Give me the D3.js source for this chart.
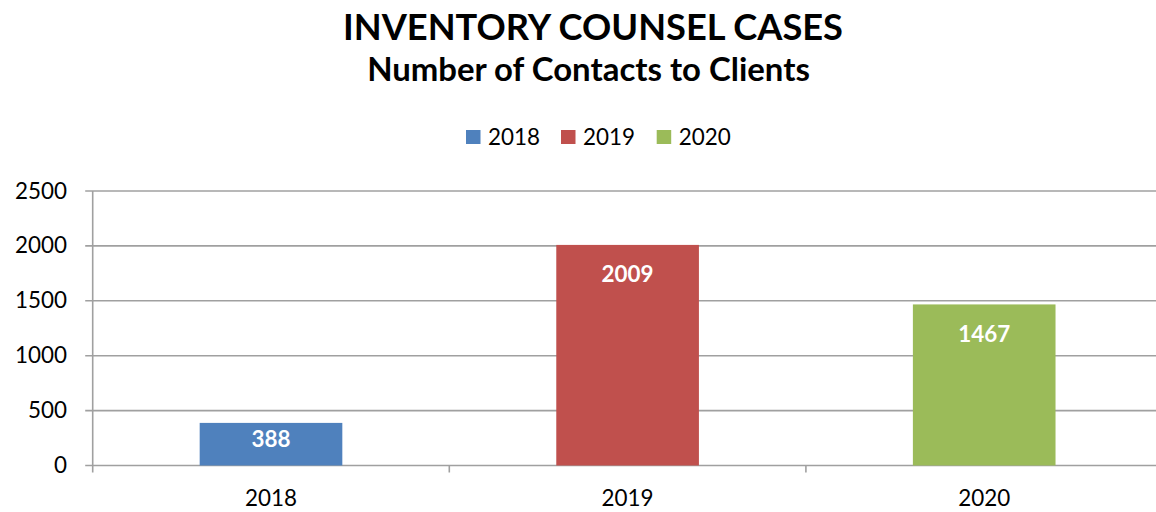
<!DOCTYPE html>
<html><head><meta charset="utf-8">
<script src="https://cdn.jsdelivr.net/npm/d3@7"></script>
<style>html,body{margin:0;padding:0;background:#fff;overflow:hidden}svg{display:block}</style>
</head><body><svg id="c" width="1156" height="512"></svg>
<script>
const categories = ["2018","2019","2020"];
const values = [388, 2009, 1467];
const colors = ["#4F81BD","#C0504D","#9BBB59"];
const yTicks = [0,500,1000,1500,2000,2500];
const titleText = "INVENTORY COUNSEL CASES";
const subtitleText = "Number of Contacts to Clients";

const FONT = "Lato, 'Open Sans', sans-serif";
const svg = d3.select("#c");
const plotLeft = 92.7, plotRight = 1162.5, plotTop = 191, plotBottom = 465.5;

const x = d3.scaleBand().domain(categories).range([plotLeft, plotRight]).paddingInner(0.6).paddingOuter(0.3);
const y = d3.scaleLinear().domain([0, 2500]).range([plotBottom, plotTop]);

function fit(sel, target){
  const node = sel.node();
  const fs = parseFloat(sel.attr("font-size"));
  const w = node.getComputedTextLength();
  sel.attr("font-size", fs * target / w);
  return fs * target / w;
}

// gridlines
svg.append("g").selectAll("line").data(yTicks).join("line")
  .attr("x1", plotLeft - 7.5).attr("x2", plotRight)
  .attr("y1", d => y(d)).attr("y2", d => y(d))
  .attr("stroke", "#a0a0a0").attr("stroke-width", 1.6);

// left axis line
svg.append("line").attr("x1", plotLeft).attr("x2", plotLeft).attr("y1", plotTop).attr("y2", plotBottom + 7)
  .attr("stroke", "#a0a0a0").attr("stroke-width", 1.6);

// category boundary ticks
const step = x.step();
svg.append("g").selectAll("line").data(categories.map((c,i)=>i+1)).join("line")
  .attr("x1", i => plotLeft + i*step).attr("x2", i => plotLeft + i*step)
  .attr("y1", plotBottom).attr("y2", plotBottom + 7)
  .attr("stroke", "#a0a0a0").attr("stroke-width", 1.6);

// bars
svg.append("g").selectAll("rect").data(values).join("rect")
  .attr("x", (d,i) => x(categories[i])).attr("width", x.bandwidth())
  .attr("y", d => y(d)).attr("height", d => y(0) - y(d))
  .attr("fill", (d,i) => colors[i]);

// y tick labels
const tickSample = svg.append("text").attr("font-family", FONT).attr("font-size", 20).text("2500");
const tickFs = fit(tickSample, 52);
tickSample.remove();
svg.append("g").selectAll("text").data(yTicks).join("text")
  .attr("x", 67).attr("y", d => y(d) + 7.5)
  .attr("text-anchor", "end").attr("font-family", FONT).attr("font-size", tickFs)
  .attr("fill", "#000").text(d => d);

// x labels
svg.append("g").selectAll("text").data(categories).join("text")
  .attr("x", d => x(d) + x.bandwidth()/2).attr("y", 506)
  .attr("text-anchor", "middle").attr("font-family", FONT).attr("font-size", tickFs)
  .attr("fill", "#000").text(d => d);

// data labels (inside end)
const dl = svg.append("g").selectAll("text").data(values).join("text")
  .attr("x", (d,i) => x(categories[i]) + x.bandwidth()/2)
  .attr("y", d => y(d) + Math.min(37.5, (y(0) - y(d))/2 + 2.4))
  .attr("text-anchor", "middle").attr("font-family", FONT).attr("font-weight", "bold")
  .attr("font-size", 20).attr("fill", "#fff").text(d => d);
const dlFs = fit(d3.select(dl.nodes()[1]), 52);
dl.attr("font-size", dlFs);

// title
const t = svg.append("text").attr("x", 593).attr("y", 40).attr("text-anchor", "middle")
  .attr("font-family", FONT).attr("font-weight", "bold").attr("font-size", 34).text(titleText);
fit(t, 500);
const st = svg.append("text").attr("x", 588.5).attr("y", 81).attr("text-anchor", "middle")
  .attr("font-family", FONT).attr("font-weight", "bold").attr("font-size", 26).text(subtitleText);
fit(st, 443);

// legend
const legX = [466, 561, 656.7];
const lg = svg.append("g").selectAll("g").data(categories).join("g");
lg.append("rect").attr("x", (d,i) => legX[i]).attr("y", 130).attr("width", 14.5).attr("height", 14)
  .attr("fill", (d,i) => colors[i]);
lg.append("text").attr("x", (d,i) => legX[i] + 22).attr("y", 145)
  .attr("font-family", FONT).attr("font-size", tickFs).attr("fill", "#000").text(d => d);
</script></body></html>
